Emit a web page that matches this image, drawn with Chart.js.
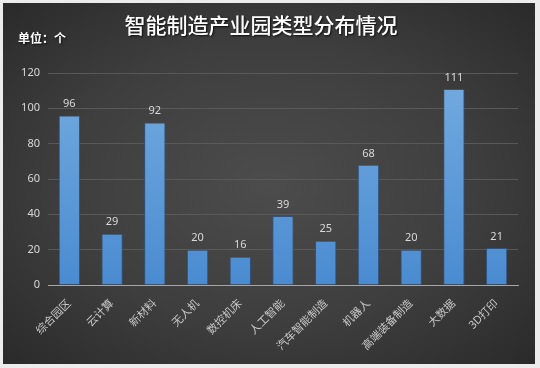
<!DOCTYPE html>
<html>
<head>
<meta charset="utf-8">
<script src="https://cdn.jsdelivr.net/npm/chart.js@4/dist/chart.umd.min.js"></script>
<style>
  html, body { margin: 0; padding: 0; background: #ececec; }
  #wrap {
    position: absolute; left: 3px; top: 3px; width: 532px; height: 361px;
    background: radial-gradient(ellipse at 50% 50%, #4c4c4c 0%, #3e3e3e 55%, #2a2a2a 100%);
  }
  canvas { display: block; }
</style>
</head>
<body>
<div id="wrap"><canvas id="parkChart" width="532" height="361"></canvas></div>
<script>
const titleText = '智能制造产业园类型分布情况';
const unitText = '单位：个';
const categories = ['综合园区', '云计算', '新材料', '无人机', '数控机床', '人工智能', '汽车智能制造', '机器人', '高端装备制造', '大数据', '3D打印'];
const parkCounts = [96, 29, 92, 20, 16, 39, 25, 68, 20, 111, 21];
const yTicks = [0, 20, 40, 60, 80, 100, 120];

const FONT = "'Noto Sans', 'Noto Sans CJK SC', sans-serif";

// title + unit label, drawn with a soft shadow like the original
const headerPlugin = {
    id: 'header',
    afterDraw(chart) {
        const ctx = chart.ctx;
        ctx.save();
        ctx.shadowColor = 'rgba(0,0,0,0.8)';
        ctx.shadowOffsetX = 1;
        ctx.shadowOffsetY = 1;
        ctx.shadowBlur = 2;
        ctx.fillStyle = '#ffffff';
        ctx.textBaseline = 'middle';
        ctx.textAlign = 'center';
        ctx.font = "500 21px 'Noto Sans CJK SC', sans-serif";
        ctx.fillText(titleText, 258, 22);
        ctx.textAlign = 'left';
        ctx.font = "bold 12px 'Noto Sans CJK SC', sans-serif";
        ctx.fillText(unitText, 15, 35);
        ctx.restore();
    }
};

// value labels above each bar
const valueLabels = {
    id: 'valueLabels',
    afterDatasetsDraw(chart) {
        const ctx = chart.ctx;
        const meta = chart.getDatasetMeta(0);
        ctx.save();
        ctx.fillStyle = '#d9d9d9';
        ctx.font = '11px ' + FONT;
        ctx.textAlign = 'center';
        ctx.textBaseline = 'bottom';
        meta.data.forEach((bar, i) => {
            ctx.fillText(parkCounts[i], bar.x, bar.y - 6);
        });
        ctx.restore();
    }
};

const ctx = document.getElementById('parkChart').getContext('2d');
const chart = new Chart(ctx, {
    type: 'bar',
    data: {
        labels: categories,
        datasets: [{
            data: parkCounts,
            backgroundColor(c) {
                const area = c.chart.chartArea;
                if (!area) return '#5b9bd5';
                const g = c.chart.ctx.createLinearGradient(0, area.top, 0, area.bottom);
                g.addColorStop(0, '#74abe0');
                g.addColorStop(1, '#4a8bd0');
                return g;
            },
            borderColor: 'rgba(45,85,135,0.9)',
            borderWidth: 1,
            barPercentage: 0.5,
            categoryPercentage: 1.0
        }]
    },
    options: {
        responsive: false,
        animation: false,
        layout: { padding: { top: 70, right: 17, bottom: 9, left: 0 } },
        plugins: {
            legend: { display: false },
            tooltip: { enabled: false },
            title: { display: false }
        },
        scales: {
            x: {
                afterFit(scale) { scale.height = 70; },
                grid: { display: false, drawTicks: false },
                border: { display: true, color: '#a6a6a6', width: 1 },
                ticks: {
                    color: '#c8c8c8',
                    font: { size: 11, family: FONT },
                    minRotation: 45,
                    maxRotation: 45,
                    padding: 12,
                    autoSkip: false
                }
            },
            y: {
                min: 0,
                max: 120,
                afterFit(scale) { scale.width = 45; },
                afterBuildTicks(scale) { scale.ticks = yTicks.map(v => ({ value: v })); },
                grid: { color: '#595959', lineWidth: 1, drawTicks: false },
                border: { display: false },
                ticks: {
                    color: '#d9d9d9',
                    font: { size: 11, family: FONT },
                    padding: 8
                }
            }
        }
    },
    plugins: [headerPlugin, valueLabels]
});
</script>
</body>
</html>
